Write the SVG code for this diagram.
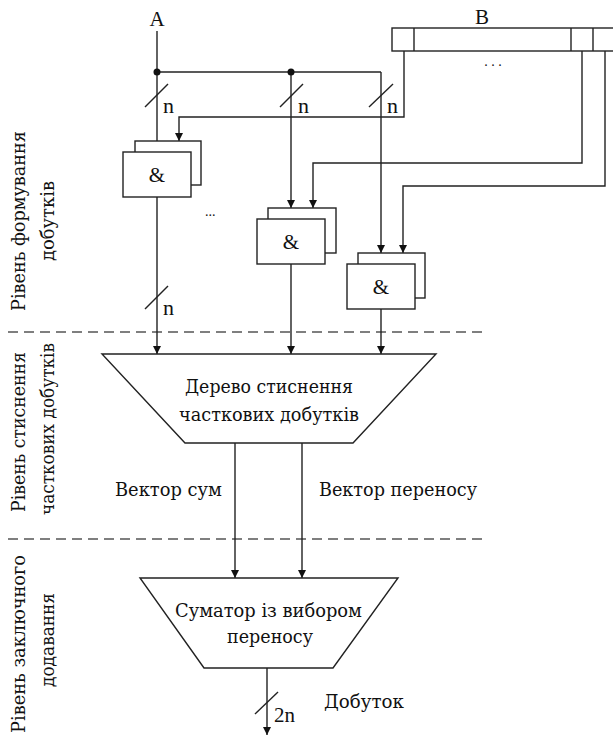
<svg xmlns="http://www.w3.org/2000/svg" width="613" height="736" viewBox="0 0 613 736">
<defs>
<marker id="ah" viewBox="0 0 10 10" refX="10" refY="5" markerWidth="8" markerHeight="8" markerUnits="userSpaceOnUse" orient="auto">
<path d="M0,0 L10,5 L0,10 z" fill="#111"/>
</marker>
<style>
.ln{fill:none;stroke:#222;stroke-width:1.4}
.ar{fill:none;stroke:#222;stroke-width:1.4;marker-end:url(#ah)}
.bx{fill:#fff;stroke:#222;stroke-width:1.4}
.dash{fill:none;stroke:#555;stroke-width:1.5;stroke-dasharray:10 6}
.t{font-family:'DejaVu Serif','Liberation Serif',serif;font-size:19px;fill:#111}
.l{font-family:'Liberation Serif','DejaVu Serif',serif;font-size:21px;fill:#111}
.n{font-size:22px}
.c{text-anchor:middle}
.s{font-family:'Liberation Serif',serif;font-size:14px;fill:#111}
</style>
</defs>
<rect width="613" height="736" fill="#fff"/>

<g id="levels">
<line class="dash" x1="8" y1="332" x2="484" y2="332"/>
<line class="dash" x1="8" y1="539" x2="484" y2="539"/>
<text class="t c" transform="translate(25,221) rotate(-90)" textLength="180" lengthAdjust="spacingAndGlyphs">Рівень формування</text>
<text class="t c" transform="translate(54,221) rotate(-90)" textLength="80" lengthAdjust="spacingAndGlyphs">добутків</text>
<text class="t c" transform="translate(25,432) rotate(-90)" textLength="160" lengthAdjust="spacingAndGlyphs">Рівень стиснення</text>
<text class="t c" transform="translate(54,429) rotate(-90)" textLength="172" lengthAdjust="spacingAndGlyphs">часткових добутків</text>
<text class="t c" transform="translate(25,644) rotate(-90)" textLength="178" lengthAdjust="spacingAndGlyphs">Рівень заключного</text>
<text class="t c" transform="translate(54,640) rotate(-90)" textLength="94" lengthAdjust="spacingAndGlyphs">додавання</text>
</g>

<g id="inputA">
<text class="l c" x="157" y="26">A</text>
</g>

<g id="inputB">
<rect class="bx" x="392" y="28" width="230" height="23"/>
<line class="ln" x1="414" y1="28" x2="414" y2="51"/>
<line class="ln" x1="571" y1="28" x2="571" y2="51"/>
<line class="ln" x1="593" y1="28" x2="593" y2="51"/>
<text class="l c" x="482" y="24">B</text>
<text class="s c" x="493" y="66">. . .</text>
</g>

<g id="connectors">
<line class="ln" x1="157" y1="31" x2="157" y2="141"/>
<polyline class="ln" points="157,72 381,72"/>
<line class="ar" x1="291" y1="72" x2="291" y2="208"/>
<line class="ar" x1="381" y1="72" x2="381" y2="253"/>
<polyline class="ar" points="404,51 404,117 179,117 179,141"/>
<polyline class="ar" points="582,51 582,163 313,163 313,208"/>
<polyline class="ar" points="605,51 605,186 403,186 403,253"/>
<circle cx="157" cy="72" r="3.5" fill="#111"/>
<circle cx="291" cy="72" r="3.5" fill="#111"/>
<line class="ln" x1="145" y1="107" x2="168" y2="84"/>
<line class="ln" x1="280" y1="107" x2="303" y2="84"/>
<line class="ln" x1="369" y1="107" x2="393" y2="84"/>
<text class="l n" x="163" y="113">n</text>
<text class="l n" x="298" y="113">n</text>
<text class="l n" x="387" y="113">n</text>
<line class="ar" x1="157" y1="197" x2="157" y2="354"/>
<line class="ln" x1="145" y1="309" x2="168" y2="286"/>
<text class="l n" x="163" y="315">n</text>
<line class="ar" x1="291" y1="264" x2="291" y2="354"/>
<line class="ar" x1="381" y1="309" x2="381" y2="354"/>
<line class="ar" x1="235" y1="443" x2="235" y2="578"/>
<line class="ar" x1="302" y1="443" x2="302" y2="578"/>
<text class="t" x="115" y="496" textLength="107" lengthAdjust="spacingAndGlyphs">Вектор сум</text>
<text class="t" x="319" y="496" textLength="158" lengthAdjust="spacingAndGlyphs">Вектор переносу</text>
<line class="ar" x1="267" y1="668" x2="267" y2="735"/>
<line class="ln" x1="255" y1="714" x2="278" y2="692"/>
<text class="l" x="274" y="722">2n</text>
<text class="t" x="324" y="708" textLength="80" lengthAdjust="spacingAndGlyphs">Добуток</text>
<text class="s" x="205" y="216">...</text>
</g>

<g id="and1">
<rect class="bx" x="135" y="141" width="66" height="44"/>
<rect class="bx" x="123" y="152" width="68" height="45"/>
<text class="l c" x="157" y="182">&amp;</text>
</g>
<g id="and2">
<rect class="bx" x="268" y="208" width="68" height="45"/>
<rect class="bx" x="257" y="219" width="68" height="45"/>
<text class="l c" x="291" y="249">&amp;</text>
</g>
<g id="and3">
<rect class="bx" x="358" y="253" width="67" height="45"/>
<rect class="bx" x="347" y="264" width="68" height="45"/>
<text class="l c" x="381" y="294">&amp;</text>
</g>

<g id="tree">
<polygon class="bx" points="102,354 436,354 353,443 185,443"/>
<text class="t c" x="269" y="393" textLength="168" lengthAdjust="spacingAndGlyphs">Дерево стиснення</text>
<text class="t c" x="269" y="421" textLength="180" lengthAdjust="spacingAndGlyphs">часткових добутків</text>
</g>

<g id="adder">
<polygon class="bx" points="140,578 398,578 333,668 204,668"/>
<text class="t c" x="268.5" y="617" textLength="187" lengthAdjust="spacingAndGlyphs">Суматор із вибором</text>
<text class="t c" x="270" y="643" textLength="86" lengthAdjust="spacingAndGlyphs">переносу</text>
</g>
</svg>
